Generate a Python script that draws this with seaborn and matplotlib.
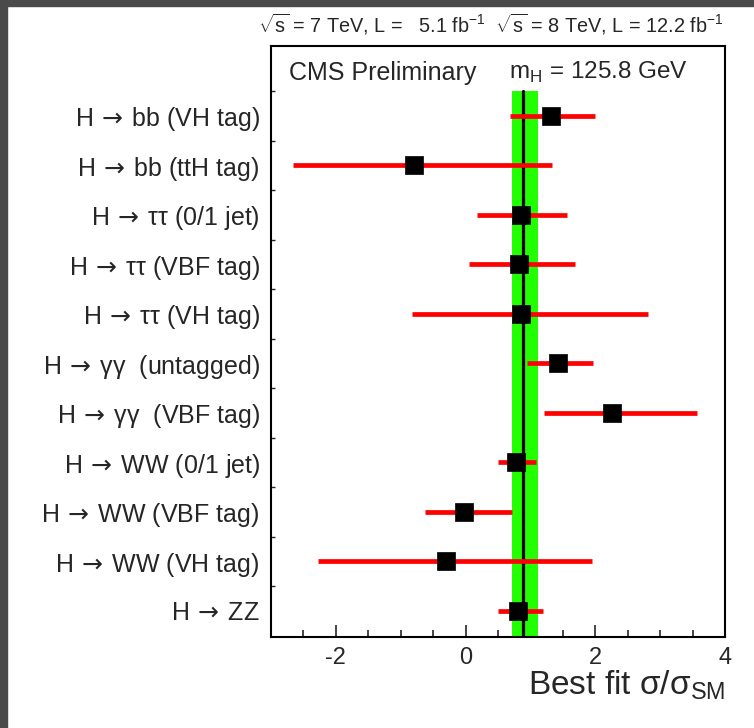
import numpy as np
import pandas as pd
import seaborn as sns
import matplotlib
matplotlib.use("Agg")
import matplotlib.pyplot as plt
from matplotlib.patches import Rectangle
from matplotlib.ticker import MultipleLocator, FixedLocator

ARROW = '$\\,\\rightarrow\\,$'
# channels, top to bottom
CHANNELS = ['H' + ARROW + 'bb (VH tag)', 'H' + ARROW + 'bb (ttH tag)',
            'H' + ARROW + 'ττ (0/1 jet)', 'H' + ARROW + 'ττ (VBF tag)',
            'H' + ARROW + 'ττ (VH tag)', 'H' + ARROW + 'γγ  (untagged)',
            'H' + ARROW + 'γγ  (VBF tag)', 'H' + ARROW + 'WW (0/1 jet)',
            'H' + ARROW + 'WW (VBF tag)', 'H' + ARROW + 'WW (VH tag)',
            'H' + ARROW + 'ZZ']
BEST_FIT = [1.31, -0.80, 0.85, 0.83, 0.86, 1.43, 2.26, 0.78, -0.03, -0.30, 0.81]
ERR_LOW = [0.68, -2.66, 0.17, 0.05, -0.83, 0.94, 1.21, 0.50, -0.62, -2.27, 0.50]
ERR_HIGH = [2.00, 1.34, 1.57, 1.68, 2.82, 1.97, 3.57, 1.08, 0.72, 1.95, 1.20]

# combined result
COMB_MU = 0.89
COMB_LOW = 0.72
COMB_HIGH = 1.11

sns.set_style("ticks")
plt.rcParams['font.family'] = ['Liberation Sans', 'DejaVu Sans']
plt.rcParams['mathtext.fontset'] = 'custom'
plt.rcParams['mathtext.rm'] = 'Liberation Sans'
plt.rcParams['axes.unicode_minus'] = False

df = pd.DataFrame({'channel': CHANNELS, 'mu': BEST_FIT,
                   'lo': ERR_LOW, 'hi': ERR_HIGH})
df['ypos'] = len(df) - 0.5 - np.arange(len(df))

fig = plt.figure(figsize=(7.54, 7.28), dpi=100)
ax = fig.add_axes([271/754, 1 - 637/728, (725-271)/754, (637-46)/728])

n = len(df)
ax.fill_betweenx([0, n], COMB_LOW, COMB_HIGH, color='#22ff00', lw=0, zorder=1)
ax.plot([COMB_MU, COMB_MU], [0, n], color='black', lw=2.3, zorder=2)

ax.hlines(df['ypos'], df['lo'], df['hi'], color='#ff0000', lw=3.4, zorder=3)
sns.scatterplot(data=df, x='mu', y='ypos', marker='s', s=150, color='black',
                edgecolor='black', linewidth=0.5, zorder=4, ax=ax, legend=False)

ax.set_xlim(-3, 4)
ax.set_ylim(-0.03, 11.91)

ax.xaxis.set_major_locator(MultipleLocator(2))
ax.xaxis.set_minor_locator(MultipleLocator(0.5))
ax.tick_params(axis='x', which='major', direction='in', length=9, width=1.2,
               labelsize=17, pad=7, top=False)
ax.tick_params(axis='x', which='minor', direction='in', length=5, width=1.2, top=False)

ax.set_yticks(df['ypos'])
ax.set_yticklabels(df['channel'])
ax.yaxis.set_minor_locator(FixedLocator(np.arange(1, n + 1)))
ax.tick_params(axis='y', which='major', length=0, labelsize=18, pad=8)
ax.tick_params(axis='y', which='minor', direction='in', length=3, width=1.0)
for lbl in ax.get_yticklabels():
    lbl.set_math_fontfamily('dejavusans')

for sp in ax.spines.values():
    sp.set_linewidth(1.5)
    sp.set_color('black')

ax.set_xlabel('')
ax.set_ylabel('')

ax.text(1.0, -0.082, 'Best fit σ/σ$_{\\rm SM}$', transform=ax.transAxes,
        ha='right', va='center', fontsize=24)
ax.text(0.04, 0.955, 'CMS Preliminary', transform=ax.transAxes,
        ha='left', va='center', fontsize=18)
ax.text(0.525, 0.955, 'm$_{\\rm H}$ = 125.8 GeV', transform=ax.transAxes,
        ha='left', va='center', fontsize=17.5)

fig.text(258/754, 1 - 24/728,
         '$\\sqrt{\\rm s}$ = 7 TeV, L =   5.1 fb$^{-1}$  $\\sqrt{\\rm s}$ = 8 TeV, L = 12.2 fb$^{-1}$',
         ha='left', va='center', fontsize=14.3,
         family=['Liberation Sans Narrow', 'Liberation Sans', 'DejaVu Sans'])

# dark frame at the top and left edge
fig.patches.append(Rectangle((0, 1 - 6/728), 1, 6/728, transform=fig.transFigure,
                             color='#4a4a4a', zorder=10))
fig.patches.append(Rectangle((0, 0), 7/754, 1, transform=fig.transFigure,
                             color='#4a4a4a', zorder=10))

fig.savefig('out.png', dpi=100)
